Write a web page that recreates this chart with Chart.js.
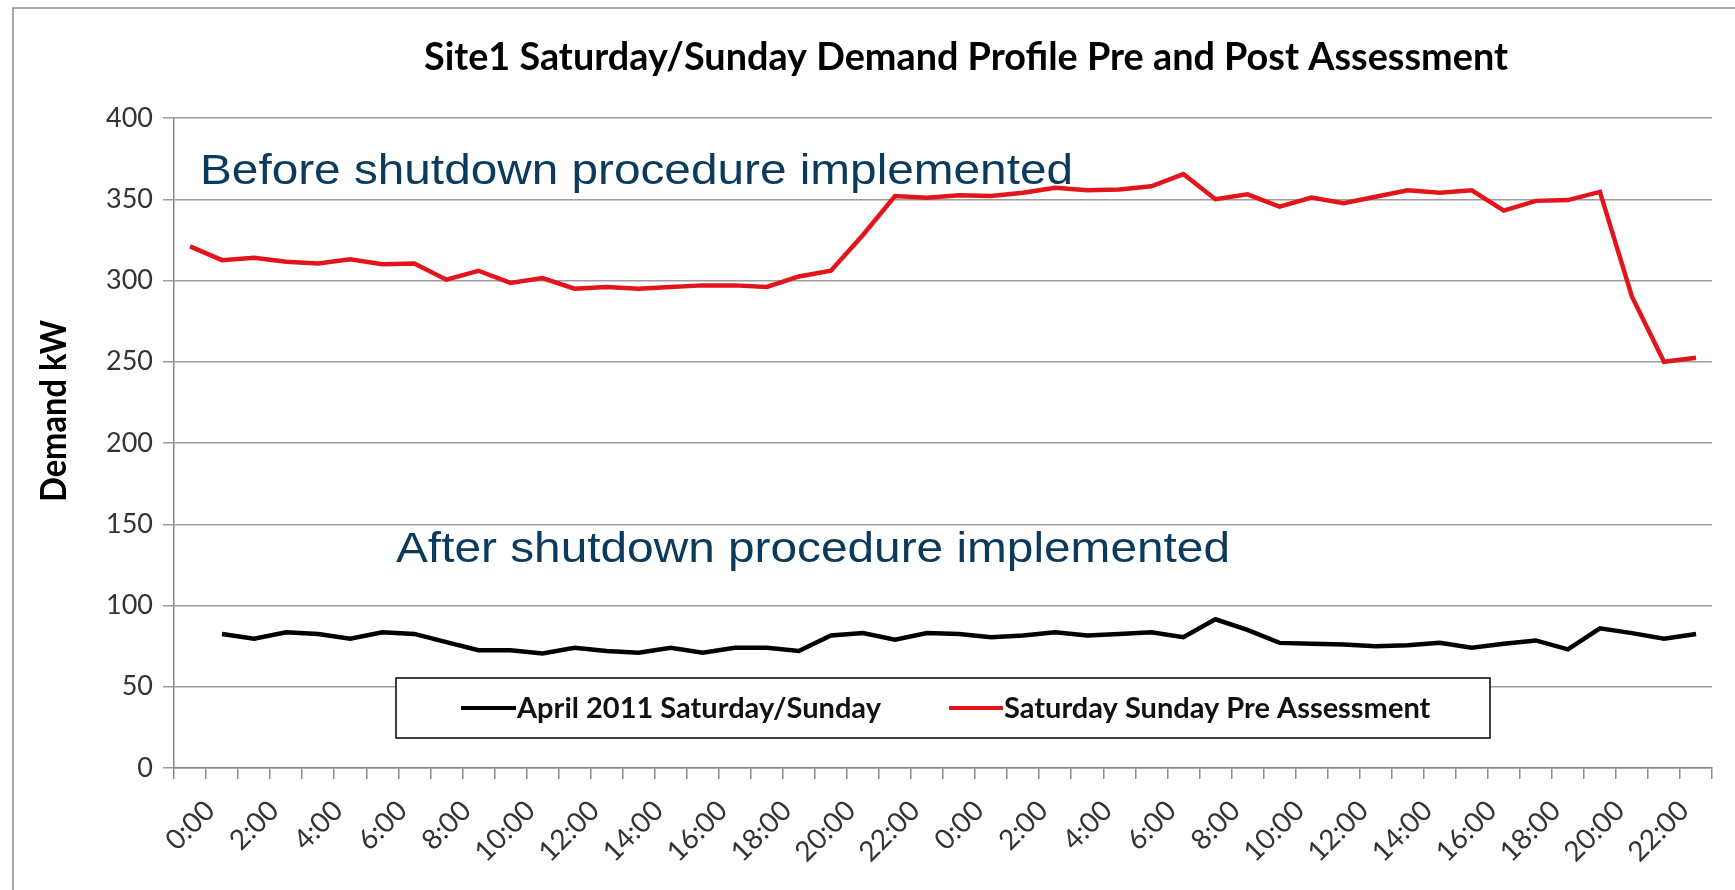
<!DOCTYPE html>
<html>
<head>
<meta charset="utf-8">
<title>Site1 Saturday/Sunday Demand Profile</title>
<script src="https://cdn.jsdelivr.net/npm/chart.js@4.4.0/dist/chart.umd.min.js"></script>
<style>
  html, body { margin: 0; padding: 0; background: #fff; }
</style>
</head>
<body>
<canvas id="chart" width="1735" height="890"></canvas>
<script>
// two days of hourly readings, Saturday then Sunday
const categories = [
  '0:00', '1:00', '2:00', '3:00', '4:00', '5:00', '6:00', '7:00', '8:00', '9:00', '10:00', '11:00',
  '12:00', '13:00', '14:00', '15:00', '16:00', '17:00', '18:00', '19:00', '20:00', '21:00', '22:00', '23:00',
  '0:00', '1:00', '2:00', '3:00', '4:00', '5:00', '6:00', '7:00', '8:00', '9:00', '10:00', '11:00',
  '12:00', '13:00', '14:00', '15:00', '16:00', '17:00', '18:00', '19:00', '20:00', '21:00', '22:00', '23:00'
]

const april2011 = [
  null, 82.5, 79.5, 83.5, 82.5, 79.5, 83.5, 82.5, 77.5, 72.5, 72.5, 70.5,
  74, 72, 71, 74, 71, 74, 74, 72, 81.5, 83, 79, 83,
  82.5, 80.5, 81.5, 83.5, 81.5, 82.5, 83.5, 80.5, 91.5, 85, 77, 76.5,
  76, 75, 75.5, 77, 74, 76.5, 78.5, 73, 86, 83, 79.5, 82.5
]

const preAssessment = [
  321, 312.5, 314, 311.5, 310.5, 313, 310, 310.5, 300.5, 306, 298.5, 301.5,
  295, 296, 295, 296, 297, 297, 296, 302.5, 306, 328, 352, 351,
  352.5, 352, 354, 357, 355.5, 356, 358, 365.5, 350, 353, 345.5, 351,
  347.5, 351.5, 355.5, 354, 355.5, 343, 349, 349.5, 354.5, 290, 250, 252.5
]

const seriesNames = ['April 2011 Saturday/Sunday', 'Saturday Sunday Pre Assessment']
const yTicks = { min: 0, max: 400, step: 50 }

const chartTitle = 'Site1 Saturday/Sunday Demand Profile Pre and Post Assessment'
const yTitle = 'Demand kW'
const noteBefore = 'Before shutdown procedure implemented'
const noteAfter = 'After shutdown procedure implemented'

// draws text left-aligned and stretched to a given width
function fitText(ctx, text, x, y, width) {
  const w = ctx.measureText(text).width
  ctx.save()
  ctx.translate(x, y)
  ctx.scale(width / w, 1)
  ctx.fillText(text, 0, 0)
  ctx.restore()
}

const decor = {
  id: 'decor',
  beforeDraw(chart) {
    const ctx = chart.ctx
    ctx.save()
    ctx.fillStyle = '#fff'
    ctx.fillRect(0, 0, chart.width, chart.height)
    ctx.strokeStyle = '#8c8c8c'
    ctx.lineWidth = 1.5
    ctx.beginPath()
    ctx.moveTo(chart.width, 8)
    ctx.lineTo(13, 8)
    ctx.lineTo(13, chart.height)
    ctx.stroke()
    ctx.restore()
  },
  afterDraw(chart) {
    const ctx = chart.ctx
    ctx.save()
    ctx.textAlign = 'left'
    ctx.textBaseline = 'alphabetic'

    // title
    ctx.fillStyle = '#000'
    ctx.font = 'bold 39px Lato'
    fitText(ctx, chartTitle, 424, 70, 1084)

    // y axis title
    ctx.save()
    ctx.translate(66, 502)
    ctx.rotate(-Math.PI / 2)
    ctx.font = 'bold 36px Lato'
    fitText(ctx, yTitle, 0, 0, 182)
    ctx.restore()

    // notes
    ctx.fillStyle = '#0b3a5d'
    ctx.font = '42px "Liberation Sans", Arial'
    fitText(ctx, noteBefore, 200, 184, 873)
    fitText(ctx, noteAfter, 396, 562, 834)

    // legend box
    ctx.fillStyle = '#fff'
    ctx.fillRect(396, 678, 1094, 60)
    ctx.strokeStyle = '#000'
    ctx.lineWidth = 1.5
    ctx.strokeRect(396, 678, 1094, 60)

    const items = [
      { x: 461, textX: 517, ds: chart.data.datasets[0] },
      { x: 949, textX: 1004, ds: chart.data.datasets[1] }
    ]
    ctx.font = 'bold 29px Lato'
    items.forEach(it => {
      ctx.strokeStyle = it.ds.borderColor
      ctx.lineWidth = 4
      ctx.beginPath()
      ctx.moveTo(it.x, 708)
      ctx.lineTo(it.textX - 1, 708)
      ctx.stroke()
      ctx.fillStyle = '#111'
      ctx.fillText(it.ds.label, it.textX, 718)
    })
    ctx.restore()
  }
}

new Chart(document.getElementById('chart'), {
  type: 'line',
  data: {
    labels: categories,
    datasets: [
      {
        label: seriesNames[0],
        data: april2011,
        borderColor: '#000000',
        borderWidth: 4.5,
        pointRadius: 0,
        tension: 0,
        fill: false
      },
      {
        label: seriesNames[1],
        data: preAssessment,
        borderColor: '#e3151c',
        borderWidth: 4.5,
        pointRadius: 0,
        tension: 0,
        fill: false
      }
    ]
  },
  options: {
    responsive: false,
    animation: false,
    devicePixelRatio: 1,
    layout: { padding: { top: 118, right: 17, bottom: 0, left: 0 } },
    plugins: {
      legend: { display: false },
      title: { display: false },
      tooltip: { enabled: false }
    },
    scales: {
      x: {
        type: 'category',
        offset: true,
        grid: {
          offset: true,
          drawOnChartArea: false,
          drawTicks: true,
          tickLength: 11,
          color: '#8a8a8a',
          lineWidth: 1.5
        },
        border: { color: '#8a8a8a', width: 1.5 },
        ticks: {
          autoSkip: false,
          minRotation: 45,
          maxRotation: 45,
          padding: 15,
          labelOffset: 20,
          color: '#333',
          font: { family: 'Lato', size: 28 },
          callback: function (value, index) {
            return index % 2 === 0 ? this.getLabelForValue(value) : ''
          }
        },
        afterFit: scale => { scale.height = 122 }
      },
      y: {
        min: yTicks.min,
        max: yTicks.max,
        ticks: {
          stepSize: yTicks.step,
          padding: 10,
          color: '#333',
          font: { family: 'Lato', size: 27 }
        },
        grid: {
          color: '#9c9c9c',
          lineWidth: 1.5,
          drawTicks: true,
          tickLength: 11
        },
        border: { color: '#8a8a8a', width: 1.5 },
        afterFit: scale => { scale.width = 174 }
      }
    }
  },
  plugins: [decor]
})
</script>
</body>
</html>
